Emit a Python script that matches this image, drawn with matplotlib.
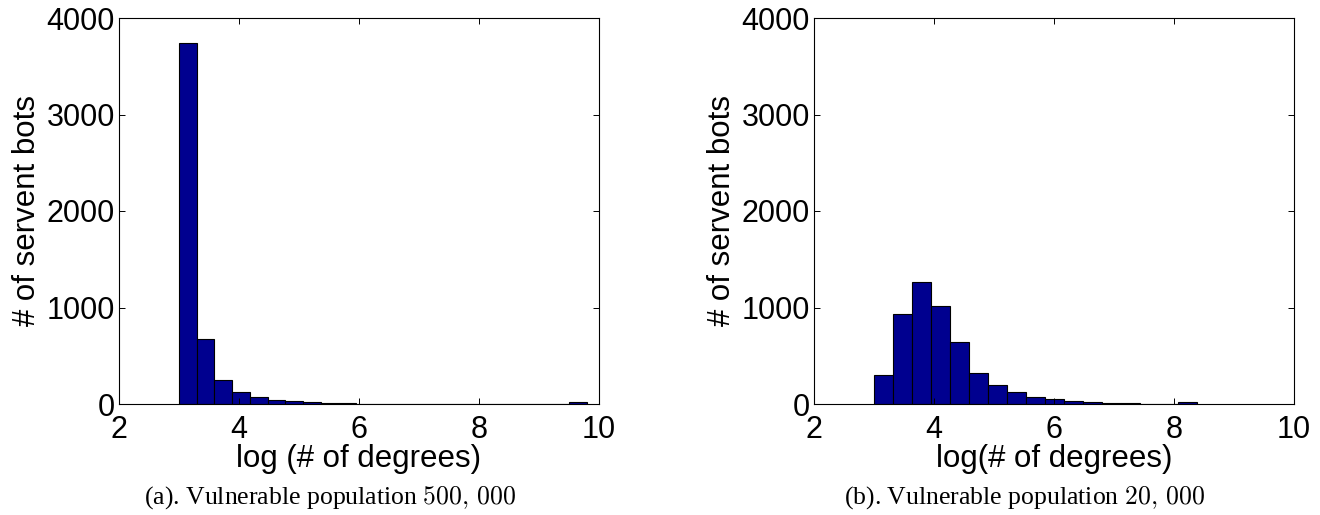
import numpy as np
import matplotlib.pyplot as plt

# bin counts (log-degree histograms of servent bots)
counts_a = [3740, 670, 250, 122, 70, 42, 32, 20, 12, 8, 5, 4, 3, 2, 2,
            1, 1, 1, 1, 1, 1, 1, 20]
counts_b = [300, 928, 1269, 1013, 638, 317, 193, 128, 72, 48, 31, 17,
            12, 6, 3, 2, 20]
range_a = (3.0, 9.8)
range_b = (3.0, 8.38)

xlabel_a = "log (# of degrees)"
xlabel_b = "log(# of degrees)"
caption_a = r"(a). Vulnerable population $500,\,000$"
caption_b = r"(b). Vulnerable population $20,\,000$"

plt.rcParams['font.family'] = ['Liberation Sans', 'DejaVu Sans']
plt.rcParams['mathtext.fontset'] = 'cm'

BAR = '#00008f'


def draw_hist(ax, counts, rng, xlabel):
    edges = np.linspace(rng[0], rng[1], len(counts) + 1)
    ax.bar(edges[:-1], counts, width=np.diff(edges), align='edge',
           color=BAR, edgecolor='black', linewidth=0.8)
    ax.set_xlim(2, 10)
    ax.set_ylim(0, 4000)
    ax.set_xticks([2, 4, 6, 8, 10])
    ax.set_yticks([0, 1000, 2000, 3000, 4000])
    ax.tick_params(direction='in', length=4.5, width=0.7, labelsize=22,
                   top=True, right=True, pad=3)
    ax.tick_params(axis='x', pad=8)
    for s in ax.spines.values():
        s.set_linewidth(0.8)
    ax.set_xlabel(xlabel, fontsize=22.5, labelpad=-1)
    ax.set_ylabel("# of servent bots", fontsize=22.5, labelpad=3)


fig = plt.figure(figsize=(13.2, 5.15), dpi=100)
ax1 = fig.add_axes([119 / 1320, 1 - 404 / 515, 480 / 1320, 386 / 515])
ax2 = fig.add_axes([814 / 1320, 1 - 404 / 515, 480 / 1320, 386 / 515])

draw_hist(ax1, counts_a, range_a, xlabel_a)
draw_hist(ax2, counts_b, range_b, xlabel_b)

fig.text(330 / 1320, 1 - 498 / 515, caption_a, ha='center', va='center',
         fontsize=18.5, family='Liberation Serif')
fig.text(1024 / 1320, 1 - 498 / 515, caption_b, ha='center', va='center',
         fontsize=18.5, family='Liberation Serif')

fig.savefig("out.png", dpi=100)
